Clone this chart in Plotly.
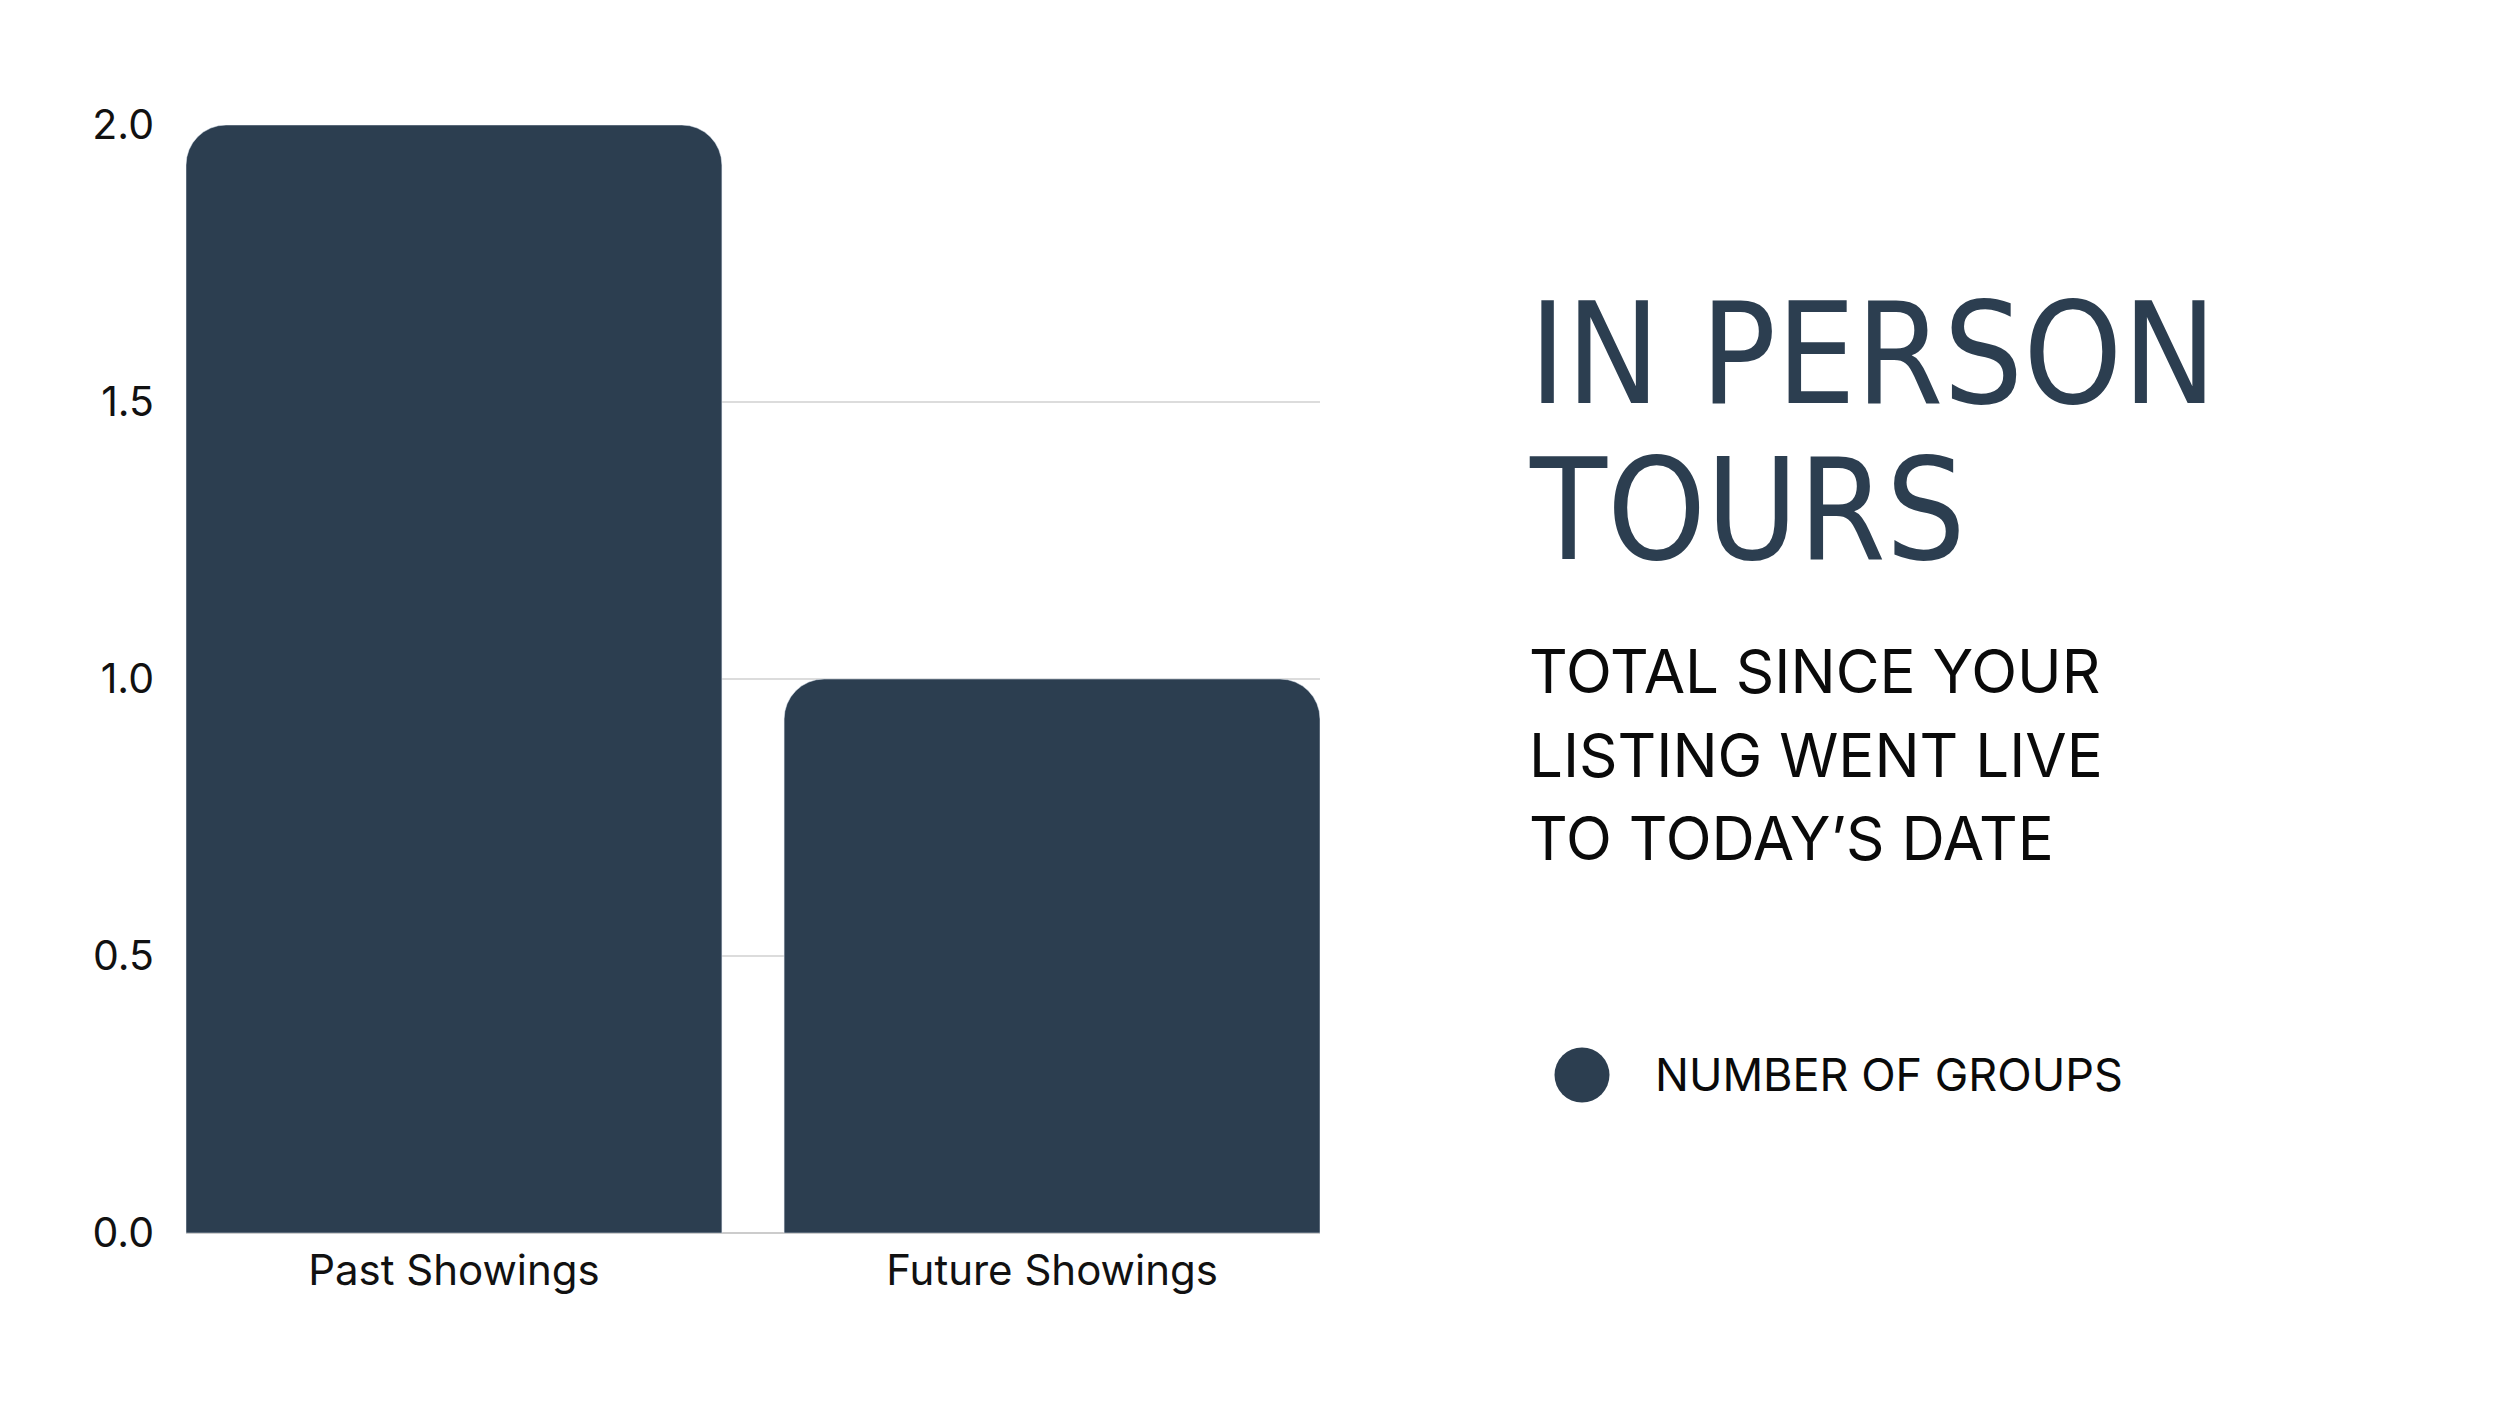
"""In person tours bar chart with side panel text."""

import plotly.graph_objects as go

categories = ["Past Showings", "Future Showings"]
groups = [2, 1]
y_ticks = [0, 0.5, 1.0, 1.5, 2.0]

title_lines = ["IN PERSON", "TOURS"]
subtitle_lines = ["TOTAL SINCE YOUR", "LISTING WENT LIVE", "TO TODAY\u2019S DATE"]
legend_label = "NUMBER OF GROUPS"

NAVY = "#2c3e50"
# page has an 8px body margin, so the figure is 16px smaller than the window
W, H = 2484, 1390
TOP, BOTTOM = 117, 1225  # plot area rows inside the figure
LEFT, RIGHT = 178, 1312
BARGAP = 0.104


def py(pixel_y):
    """Figure pixel row -> paper y."""
    return (BOTTOM - pixel_y) / (BOTTOM - TOP)


def px(pixel_x):
    return (pixel_x - LEFT) / (RIGHT - LEFT)


fig = go.Figure(
    go.Bar(x=categories, y=groups, marker_color=NAVY, showlegend=False, name=legend_label)
)

# bars sit flush against both ends of the plot area
half = (1 - BARGAP) / 2
fig.update_layout(
    width=W,
    height=H,
    margin=dict(l=LEFT, r=W - RIGHT, t=TOP, b=H - BOTTOM),
    paper_bgcolor="white",
    plot_bgcolor="white",
    bargap=BARGAP,
    barcornerradius=40,
    font=dict(family="Inter, sans-serif", color="#111111"),
    xaxis=dict(
        range=[-half, len(categories) - 1 + half],
        showgrid=False,
        showline=False,
        ticks="",
        tickfont=dict(size=42, color="#111111"),
        ticklabelstandoff=9,
    ),
    yaxis=dict(
        range=[0, 2],
        tickvals=y_ticks,
        tickformat=".1f",
        showgrid=True,
        gridcolor="#dcdcdc",
        gridwidth=2,
        zeroline=True,
        zerolinecolor="#cccccc",
        zerolinewidth=2,
        showline=False,
        ticks="",
        tickfont=dict(size=41, color="#111111"),
        ticklabelstandoff=31,
    ),
)

title_font = dict(family="DejaVu Sans Condensed, sans-serif", size=140, color=NAVY)
for line, cy in zip(title_lines, [346.5, 502]):
    fig.add_annotation(
        text=line, xref="paper", yref="paper", x=px(1519), y=py(cy),
        xanchor="left", yanchor="middle", showarrow=False, font=title_font,
    )

sub_font = dict(family="Inter, sans-serif", size=60, color="#0a0a0a")
for line, cy in zip(subtitle_lines, [662.5, 746.5, 829.5]):
    fig.add_annotation(
        text=line, xref="paper", yref="paper", x=px(1519), y=py(cy),
        xanchor="left", yanchor="middle", showarrow=False, font=sub_font,
    )

# legend: circle marker plus label
r = 27.5
cx, cy = 1574, 1067
fig.add_shape(
    type="circle", xref="paper", yref="paper",
    x0=px(cx - r), x1=px(cx + r), y0=py(cy + r), y1=py(cy - r),
    fillcolor=NAVY, line_width=0,
)
fig.add_annotation(
    text=legend_label, xref="paper", yref="paper", x=px(1645), y=py(1066),
    xanchor="left", yanchor="middle", showarrow=False,
    font=dict(family="Inter, sans-serif", size=45, color="#0a0a0a"),
)

fig.write_html("out.html")
